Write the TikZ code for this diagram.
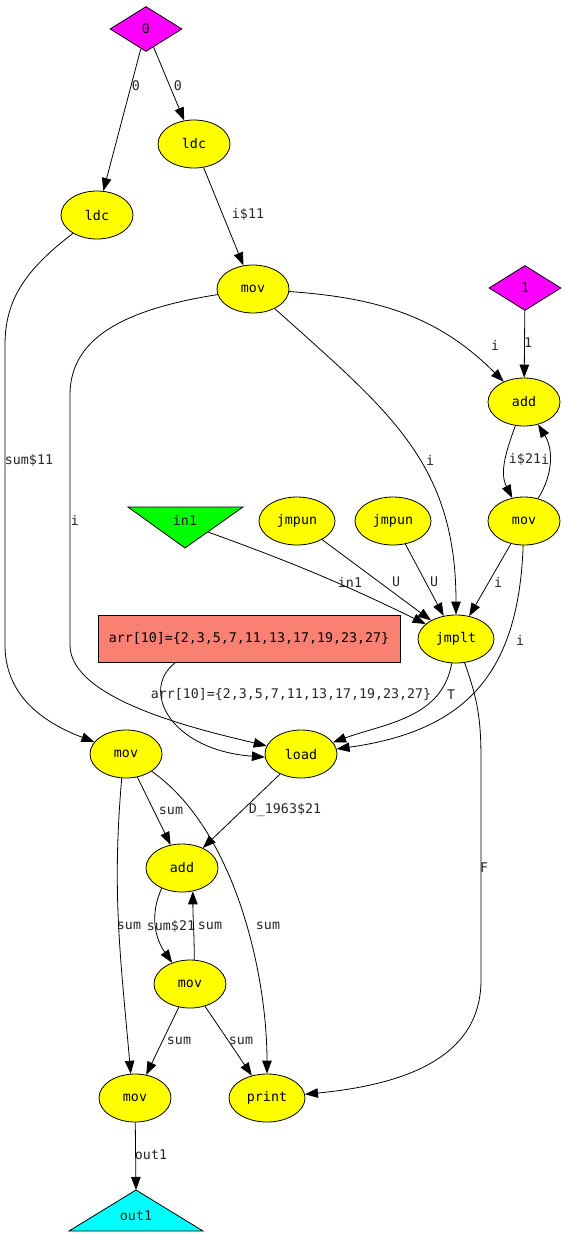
\documentclass[tikz,border=0pt]{standalone}
\usepackage{fontspec}
\setmonofont{DejaVu Sans Mono}
\usetikzlibrary{shapes.geometric,arrows.meta}
\definecolor{salmon}{RGB}{250,128,114}
\definecolor{gvyellow}{RGB}{255,255,0}
\definecolor{gvmagenta}{RGB}{255,0,255}
\definecolor{gvgreen}{RGB}{0,255,0}
\definecolor{gvcyan}{RGB}{0,255,255}

\begin{document}
\begin{tikzpicture}[x=1pt,y=1pt,
  font=\ttfamily\fontsize{13.3}{15}\selectfont,
  op/.style={ellipse,draw,fill=gvyellow,line width=0.8pt,minimum width=72pt,minimum height=48pt,inner sep=0pt},
  cst/.style={diamond,draw,fill=gvmagenta,line width=0.8pt,minimum width=72pt,minimum height=45pt,inner sep=0pt},
  lbl/.style={inner sep=0pt,text=black!85},
  flow/.style={line width=0.8pt,-{Triangle[length=13pt,width=9.5pt]}}]
\useasboundingbox (0,0) rectangle (567,-1251);

% constants and sources
\node[cst] (zero) at (146,-29) {0};
\node[cst] (one) at (525,-288) {1};
\draw[fill=gvgreen,line width=0.8pt] (128,-507) -- (243,-507) -- (185,-548) -- cycle;
\node[lbl] (in1) at (185,-520) {in1};
\coordinate (in1e) at (208,-532);
\node[draw,fill=salmon,line width=0.8pt,minimum width=302pt,minimum height=47pt] (arr) at (249,-639) {arr[10]=\{2,3,5,7,11,13,17,19,23,27\}};

% operations
\node[op] (ldcA) at (194,-144) {ldc};
\node[op] (ldcB) at (97,-215) {ldc};
\node[op] (movT) at (253,-289) {mov};
\node[op] (addR) at (524,-402) {add};
\node[op] (movR) at (524,-521) {mov};
\node[op,minimum width=76pt] (jmpunA) at (297,-521) {jmpun};
\node[op,minimum width=76pt] (jmpunB) at (393,-521) {jmpun};
\node[op,minimum width=76pt] (jmplt) at (456,-639) {jmplt};
\node[op] (movL) at (126,-754) {mov};
\node[op] (load) at (301,-754) {load};
\node[op] (addM) at (182,-868) {add};
\node[op] (movM) at (190,-984) {mov};
\node[op] (movB) at (135,-1098) {mov};
\node[op,minimum width=76pt] (print) at (267,-1098) {print};

% sink
\draw[fill=gvcyan,line width=0.8pt] (136,-1190) -- (203,-1231) -- (69,-1231) -- cycle;
\node[lbl] (out1) at (136,-1216) {out1};
\coordinate (out1t) at (136,-1190);

% top part
\draw[flow] (zero) -- (ldcB) node[lbl] at (136,-86) {0};
\draw[flow] (zero) -- (ldcA) node[lbl] at (178,-86) {0};
\draw[flow] (ldcA) -- (movT) node[lbl] at (248,-214) {i\$11};
\draw[flow] (ldcB) .. controls (25,-270) and (5,-300) .. (5,-345) -- (5,-645)
  .. controls (5,-700) and (50,-725) .. (movL) node[lbl] at (29,-460) {sum\$11};
\draw[flow] (movT) to[out=-4,in=135] (addR) node[lbl] at (495,-345) {i};
\draw[flow] (movT) to[out=-42,in=90,looseness=1.1] (jmplt) node[lbl] at (430,-460) {i};
\draw[flow] (movT) .. controls (120,-310) and (70,-340) .. (70,-395) -- (70,-645)
  .. controls (70,-700) and (200,-730) .. (load) node[lbl] at (75,-520) {i};

% loop on the right
\draw[flow] (one) -- (addR) node[lbl] at (528,-343) {1};
\draw[flow] (addR) to[out=-110,in=117] (movR) node[lbl] at (525,-459) {i\$21};
\draw[flow] (movR) to[out=58,in=-58] (addR) node[lbl] at (545,-459) {i};

% into jmplt
\draw[flow] (in1e) to[bend left=3] (jmplt) node[lbl] at (350,-582) {in1};
\draw[flow] (jmpunA) -- (jmplt) node[lbl] at (396,-582) {U};
\draw[flow] (jmpunB) -- (jmplt) node[lbl] at (434,-582) {U};
\draw[flow] (movR) -- (jmplt) node[lbl] at (498,-582) {i};

% into load
\draw[flow] (movR) to[out=-92,in=8,looseness=1.2] (load) node[lbl] at (520,-640) {i};
\draw[flow] ([xshift=-74pt]arr.south) .. controls (140,-690) and (170,-750) .. (load.185)
  node[lbl] at (291,-695) {arr[10]=\{2,3,5,7,11,13,17,19,23,27\}};
\draw[flow] (jmplt) to[out=-100,in=20] (load) node[lbl] at (451,-695) {T};
\draw[flow] (jmplt) .. controls (478,-700) and (481,-720) .. (481,-760) -- (481,-980)
  .. controls (481,-1060) and (400,-1085) .. (print) node[lbl] at (484,-868) {F};

% lower part
\draw[flow] (load) -- (addM) node[lbl] at (285,-810) {D\_1963\$21};
\draw[flow] (movL) -- (addM) node[lbl] at (171,-811) {sum};
\draw[flow] (movL.-100) to[out=-95,in=95] (movB.100) node[lbl] at (129,-926) {sum};
\draw[flow] (movL.-34) to[out=-35,in=90,looseness=0.8] (print.north) node[lbl] at (268,-926) {sum};
\draw[flow] (addM.-135) to[out=-115,in=125] (movM.130) node[lbl] at (171,-926) {sum\$21};
\draw[flow] (movM.80) to[out=90,in=-90] (addM.-65) node[lbl] at (210,-926) {sum};
\draw[flow] (movM) -- (movB) node[lbl] at (179,-1041) {sum};
\draw[flow] (movM) -- (print) node[lbl] at (241,-1041) {sum};
\draw[flow] (movB) -- (out1t) node[lbl] at (151,-1155) {out1};
\end{tikzpicture}
\end{document}
